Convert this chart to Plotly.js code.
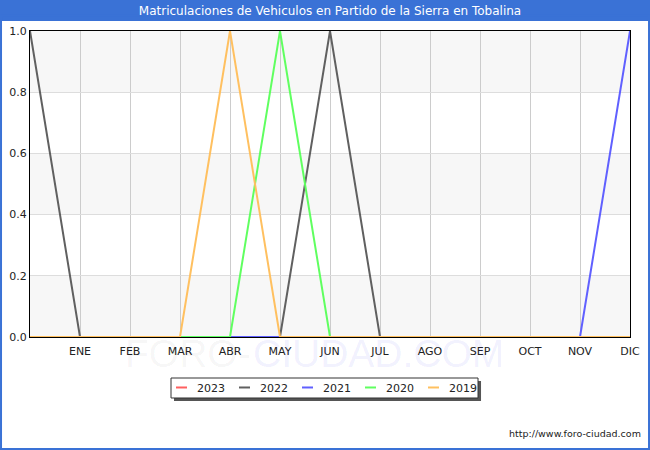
<!DOCTYPE html>
<html>
<head>
<meta charset="utf-8">
<script src="https://cdn.plot.ly/plotly-3.0.1.min.js"></script>
<style>html,body{margin:0;padding:0;background:#fff;}#chart{width:650px;height:450px;}</style>
</head>
<body>
<div id="chart"></div>
<script>
var months = ['', 'ENE', 'FEB', 'MAR', 'ABR', 'MAY', 'JUN', 'JUL', 'AGO', 'SEP', 'OCT', 'NOV', 'DIC'];
var seriesNames = ['2023', '2022', '2021', '2020', '2019'];
var v2023 = [0, 0, 0, 0, 0, 0, 0, 0, 0, 0, 0, 0, 0];
var v2022 = [1, 0, 0, 0, 0, 0, 1, 0, 0, 0, 0, 0, 0];
var v2021 = [0, 0, 0, 0, 0, 0, 0, 0, 0, 0, 0, 0, 1];
var v2020 = [0, 0, 0, 0, 0, 1, 0, 0, 0, 0, 0, 0, 0];
var v2019 = [0, 0, 0, 0, 1, 0, 0, 0, 0, 0, 0, 0, 0];
var seriesValues = [v2023, v2022, v2021, v2020, v2019];
var colors = ['#ff6060', '#606060', '#6060ff', '#60ff60', '#ffc060'];

var FONT = 'DejaVu Sans, Verdana, sans-serif';
var WM_FONT = 'Liberation Sans Narrow, Liberation Sans, sans-serif';
var xs = months.map(function (m, i) { return i; });

var traces = seriesNames.map(function (name, k) {
  return {
    x: xs, y: seriesValues[k], name: name, type: 'scatter', mode: 'lines',
    line: {color: colors[k], width: 2}, cliponaxis: true
  };
});

var bands = [[0, 0.2], [0.4, 0.6], [0.8, 1.0]];
var shapes = bands.map(function (b) {
  return {type: 'rect', xref: 'paper', yref: 'y', x0: 0, x1: 1, y0: b[0], y1: b[1],
          fillcolor: '#f7f7f7', line: {width: 0}, layer: 'below'};
});
// title bar
shapes.push({type: 'rect', xref: 'paper', yref: 'paper', x0: -0.06, x1: 1.04, y0: 1.0327, y1: 1.11,
             fillcolor: '#3a72d6', line: {width: 0}, layer: 'below'});
// outer border
shapes.push({type: 'rect', xref: 'paper', yref: 'paper', x0: -0.0483, x1: 1.0317, y0: -0.3660, y1: 1.05,
             fillcolor: 'rgba(0,0,0,0)', line: {color: '#3a72d6', width: 2}, layer: 'below'});
// legend shadow and box
shapes.push({type: 'rect', xref: 'paper', yref: 'paper', x0: 0.24, x1: 0.7517, y0: -0.2092, y1: -0.1438,
             fillcolor: '#555555', line: {width: 0}, layer: 'below'});
shapes.push({type: 'rect', xref: 'paper', yref: 'paper', x0: 0.235, x1: 0.7467, y0: -0.1993, y1: -0.1340,
             fillcolor: '#ffffff', line: {color: '#333333', width: 1}, layer: 'below'});

var layout = {
  width: 650, height: 450,
  margin: {l: 30, r: 20, t: 31, b: 113},
  paper_bgcolor: '#ffffff', plot_bgcolor: 'rgba(0,0,0,0)',
  font: {family: FONT, size: 11, color: '#222'},
  title: {text: 'Matriculaciones de Vehiculos en Partido de la Sierra en Tobalina',
          font: {family: FONT, size: 12, color: '#ffffff'},
          x: 0.5, xanchor: 'center', xref: 'paper', y: 0.976, yanchor: 'middle', yref: 'container'},
  xaxis: {
    range: [0, 12], tickmode: 'array', tickvals: xs, ticktext: months,
    showgrid: true, gridcolor: '#cccccc', gridwidth: 1,
    showline: true, linecolor: '#000', linewidth: 1, mirror: true,
    ticks: '', ticklabelstandoff: 4, tickfont: {family: FONT, size: 11, color: '#222'}, zeroline: false, fixedrange: true
  },
  yaxis: {
    range: [0, 1], tickmode: 'array', tickvals: [0, 0.2, 0.4, 0.6, 0.8, 1.0], tickformat: '.1f',
    showgrid: true, gridcolor: '#dddddd', gridwidth: 1,
    showline: true, linecolor: '#000', linewidth: 1, mirror: true,
    ticks: '', ticklen: 0, tickfont: {family: FONT, size: 11, color: '#222'}, zeroline: false, fixedrange: true
  },
  showlegend: true,
  legend: {
    orientation: 'h', x: 0.2117, xanchor: 'left', y: -0.1176, yanchor: 'top',
    bgcolor: 'rgba(255,255,255,0)', borderwidth: 0,
    font: {family: FONT, size: 11, color: '#222'},
    itemwidth: 30, entrywidth: 18, entrywidthmode: 'pixels', traceorder: 'normal',
    tracegroupgap: 0, itemclick: false
  },
  shapes: shapes,
  annotations: [
    {text: 'FORO-', xref: 'paper', yref: 'paper', x: 0.37, y: -0.0523, xanchor: 'right', yanchor: 'middle',
     showarrow: false, borderpad: 0, font: {family: WM_FONT, size: 39, color: 'rgba(0,0,0,0.045)'}},
    {text: 'CIUDAD.COM', xref: 'paper', yref: 'paper', x: 0.37, y: -0.0523, xanchor: 'left', yanchor: 'middle',
     showarrow: false, borderpad: 0, font: {family: WM_FONT, size: 39, color: 'rgba(50,50,240,0.075)'}},
    {text: 'http://www.foro-ciudad.com', xref: 'paper', yref: 'paper', x: 1.022, y: -0.3153, xanchor: 'right', yanchor: 'middle',
     showarrow: false, font: {family: FONT, size: 9.5, color: '#222'}}
  ]
};

Plotly.newPlot('chart', traces, layout, {staticPlot: true, displayModeBar: false}).then(function (gd) {
  gd.querySelectorAll('.legend .legendlines path').forEach(function (p) { p.setAttribute('d', 'M19,0h11'); });
  gd.querySelectorAll('.legend [clip-path]').forEach(function (el) { el.removeAttribute('clip-path'); });
});
</script>
</body>
</html>
